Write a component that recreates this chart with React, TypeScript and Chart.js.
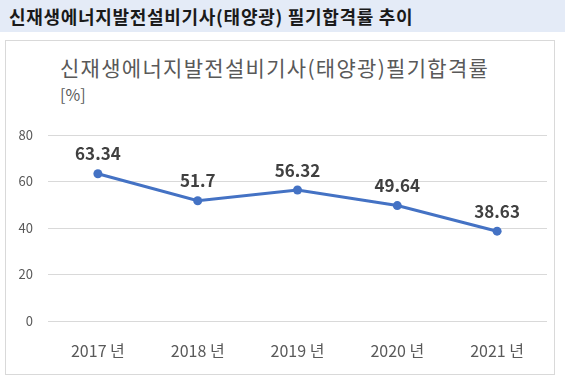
import React, { useEffect, useRef } from "react";
import { Chart, registerables } from "chart.js";

Chart.register(...registerables);

const pageTitle = "신재생에너지발전설비기사(태양광) 필기합격률 추이";
const chartTitle = "신재생에너지발전설비기사(태양광)필기합격률";
const unitLabel = "[%]";
const years = ["2017 년", "2018 년", "2019 년", "2020 년", "2021 년"];
const passRates = [63.34, 51.7, 56.32, 49.64, 38.63];
const yMin = 0;
const yMax = 80;
const yStep = 20;

const FONT = "'Noto Sans CJK KR', 'Noto Sans', sans-serif";

const pointLabelPlugin = {
  id: "pointLabels",
  afterDatasetsDraw(chart: any) {
    const ctx = chart.ctx;
    const meta = chart.getDatasetMeta(0);
    ctx.save();
    ctx.font = `bold 17px ${FONT}`;
    ctx.fillStyle = "#404040";
    ctx.textAlign = "center";
    ctx.textBaseline = "middle";
    meta.data.forEach((pt: any, i: number) => {
      ctx.fillText(String(passRates[i]), pt.x, pt.y - 20);
    });
    ctx.restore();
  },
};

export default function App() {
  const canvasRef = useRef<HTMLCanvasElement | null>(null);

  useEffect(() => {
    if (!canvasRef.current) return;
    const chart = new Chart(canvasRef.current, {
      type: "line",
      data: {
        labels: years,
        datasets: [
          {
            data: passRates,
            borderColor: "#4472c4",
            backgroundColor: "#4472c4",
            borderWidth: 3,
            pointRadius: 4.5,
            pointBackgroundColor: "#4472c4",
            pointBorderWidth: 0,
            tension: 0,
          },
        ],
      },
      options: {
        responsive: false,
        animation: false,
        devicePixelRatio: 1,
        layout: { padding: { top: 135, right: 18, bottom: 0, left: 0 } },
        plugins: {
          legend: { display: false },
          title: { display: false },
          tooltip: { enabled: false },
        },
        scales: {
          x: {
            type: "category",
            offset: true,
            grid: { display: false, drawTicks: false },
            border: { display: false },
            ticks: {
              color: "#595959",
              font: { family: FONT, size: 16 },
              padding: 20,
              maxRotation: 0,
            },
            afterFit: (s: any) => {
              s.height = 60;
            },
          },
          y: {
            min: yMin,
            max: yMax,
            grid: { color: "#d9d9d9", lineWidth: 1, drawTicks: false },
            border: { display: false },
            ticks: {
              stepSize: yStep,
              color: "#595959",
              font: { family: FONT, size: 13 },
              padding: 15,
            },
            afterFit: (s: any) => {
              s.width = 48;
            },
          },
        },
      },
      plugins: [pointLabelPlugin],
    } as any);
    return () => chart.destroy();
  }, []);

  return (
    <div
      style={{
        position: "absolute",
        left: 0,
        top: 0,
        width: 565,
        height: 381,
        background: "#ffffff",
        overflow: "hidden",
        fontFamily: FONT,
      }}
    >
      <div
        style={{
          position: "absolute",
          left: 0,
          top: 0,
          width: 565,
          height: 32,
          background: "#e4ebf7",
        }}
      />
      <div
        style={{
          position: "absolute",
          left: 9,
          top: 0,
          height: 32,
          lineHeight: "32px",
          fontSize: 18,
          fontWeight: "bold",
          letterSpacing: "0.7px",
          color: "#1a1a1a",
          whiteSpace: "nowrap",
        }}
      >
        {pageTitle}
      </div>
      <div
        style={{
          position: "absolute",
          left: 5,
          top: 40,
          width: 548,
          height: 333,
          border: "1px solid #d9d9d9",
        }}
      />
      <div
        style={{
          position: "absolute",
          left: 60,
          top: 54,
          lineHeight: "26px",
          fontSize: 21,
          letterSpacing: "1.3px",
          color: "#595959",
          whiteSpace: "nowrap",
        }}
      >
        {chartTitle}
      </div>
      <div
        style={{
          position: "absolute",
          left: 60,
          top: 84,
          lineHeight: "21px",
          fontSize: 16,
          color: "#595959",
          whiteSpace: "nowrap",
        }}
      >
        {unitLabel}
      </div>
      <canvas
        ref={canvasRef}
        width={565}
        height={381}
        style={{ position: "absolute", left: 0, top: 0, display: "block" }}
      />
    </div>
  );
}
